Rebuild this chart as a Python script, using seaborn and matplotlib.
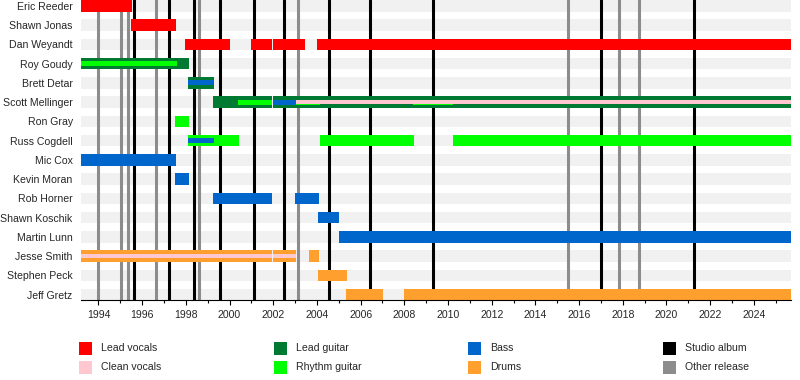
import matplotlib
matplotlib.use("Agg")
import matplotlib.pyplot as plt
from matplotlib.patches import Rectangle
import seaborn as sns
import pandas as pd

# ---- Data ----
START = 1993.2
END = 2025.7

members = [
    "Eric Reeder", "Shawn Jonas", "Dan Weyandt", "Roy Goudy", "Brett Detar",
    "Scott Mellinger", "Ron Gray", "Russ Cogdell", "Mic Cox", "Kevin Moran",
    "Rob Horner", "Shawn Koschik", "Martin Lunn", "Jesse Smith", "Stephen Peck",
    "Jeff Gretz",
]

lead_vocals = [
    ("Eric Reeder", START, 1995.53),
    ("Shawn Jonas", 1995.5, 1997.56),
    ("Dan Weyandt", 1997.97, 2000.01),
    ("Dan Weyandt", 2000.99, 2001.96),
    ("Dan Weyandt", 2002.0, 2003.46),
    ("Dan Weyandt", 2004.02, END),
]
lead_guitar = [
    ("Roy Goudy", START, 1998.15),
    ("Brett Detar", 1998.12, 1999.3),
    ("Scott Mellinger", 1999.26, 2001.96),
    ("Scott Mellinger", 2002.0, END),
]
rhythm_guitar = [
    ("Ron Gray", 1997.51, 1998.15),
    ("Russ Cogdell", 1998.1, 2000.43),
    ("Russ Cogdell", 2004.15, 2008.45),
    ("Russ Cogdell", 2010.25, END),
]
bass = [
    ("Mic Cox", START, 1997.54),
    ("Kevin Moran", 1997.51, 1998.15),
    ("Rob Horner", 1999.25, 2001.93),
    ("Rob Horner", 2003.0, 2004.1),
    ("Shawn Koschik", 2004.07, 2005.02),
    ("Martin Lunn", 2004.99, END),
]
drums = [
    ("Jesse Smith", START, 2001.96),
    ("Jesse Smith", 2002.0, 2003.05),
    ("Jesse Smith", 2003.64, 2004.1),
    ("Stephen Peck", 2004.07, 2005.37),
    ("Jeff Gretz", 2005.34, 2007.02),
    ("Jeff Gretz", 2007.99, END),
]
# secondary roles drawn as inner stripes
rhythm_inner = [
    ("Roy Goudy", START, 1997.6),
    ("Scott Mellinger", 2000.38, 2001.96),
    ("Scott Mellinger", 2003.05, 2004.12),
    ("Scott Mellinger", 2008.42, 2010.25),
]
bass_inner = [
    ("Brett Detar", 1998.12, 1999.3),
    ("Russ Cogdell", 1998.1, 1999.28),
    ("Scott Mellinger", 2002.0, 2003.05),
]
clean_vocals_inner = [
    ("Jesse Smith", START, 2001.96),
    ("Jesse Smith", 2002.0, 2003.05),
    ("Scott Mellinger", 2003.05, END),
]

studio_albums = [1995.63, 1997.25, 1998.39, 1999.57, 2001.13, 2002.51,
                 2004.53, 2006.43, 2009.33, 2016.99, 2021.28]
other_releases = [1994.0, 1995.02, 1995.35, 1996.64, 1998.58, 2003.15,
                  2015.51, 2017.84, 2018.73]

year_ticks = list(range(1994, 2026))
year_labels = [str(y) if y % 2 == 0 else "" for y in year_ticks]

# ---- Colours ----
C_LEAD_VOC = "#ff0000"
C_CLEAN_VOC = "#ffc8d0"
C_LEAD_GTR = "#007a33"
C_RHYTHM = "#00ff00"
C_BASS = "#0066cc"
C_DRUMS = "#ff9f2e"
C_STUDIO = "#000000"
C_OTHER = "#8c8c8c"
C_BAND = "#f1f1f1"

sns.set_theme(style="white")
plt.rcParams["font.family"] = ["Liberation Sans", "DejaVu Sans"]

W, H = 800, 380
fig = plt.figure(figsize=(W / 100, H / 100), dpi=100)
ax = fig.add_axes([81 / W, 1 - 300 / H, 710 / W, 300 / H])

row = {m: i for i, m in enumerate(members)}
BAR_H = 0.608


def draw(spans, color, height, z):
    df = pd.DataFrame(spans, columns=["member", "start", "end"])
    df["y"] = df["member"].map(row)
    ax.barh(df["y"], df["end"] - df["start"], left=df["start"], height=height,
            color=color, linewidth=0, zorder=z)


# background bands for each row
ax.barh(range(len(members)), END - START, left=START, height=BAR_H,
        color=C_BAND, linewidth=0, zorder=0)

# release lines
for x in other_releases:
    ax.axvline(x, color=C_OTHER, lw=2.2, zorder=1)
for x in studio_albums:
    ax.axvline(x, color=C_STUDIO, lw=2.2, zorder=1)

draw(lead_vocals, C_LEAD_VOC, BAR_H, 2)
draw(lead_guitar, C_LEAD_GTR, BAR_H, 2)
draw(rhythm_guitar, C_RHYTHM, BAR_H, 2)
draw(bass, C_BASS, BAR_H, 2)
draw(drums, C_DRUMS, BAR_H, 2)
draw(rhythm_inner, C_RHYTHM, 0.26, 3)
draw(bass_inner, C_BASS, 0.26, 3)
draw(clean_vocals_inner, C_CLEAN_VOC, 0.17, 4)

ax.set_xlim(START, END)
ax.set_ylim(15.28, -0.304)
ax.set_yticks(range(len(members)), members, fontsize=7.6)
ax.set_xticks(year_ticks, year_labels, fontsize=7.6)
ax.tick_params(axis="y", length=0, pad=6)
ax.tick_params(axis="x", length=3.6, width=0.8, pad=3.5, color="black",
               bottom=True)
for i, t in enumerate(ax.xaxis.get_major_ticks()):
    if year_ticks[i] % 2:
        t.tick1line.set_markersize(2.2)

sns.despine(ax=ax, left=True, top=True, right=True)
ax.spines["bottom"].set_color("black")
ax.spines["bottom"].set_linewidth(0.8)
ax.grid(False)

# ---- Legend ----
legend_items = [
    [("Lead vocals", C_LEAD_VOC), ("Clean vocals", C_CLEAN_VOC)],
    [("Lead guitar", C_LEAD_GTR), ("Rhythm guitar", C_RHYTHM)],
    [("Bass", C_BASS), ("Drums", C_DRUMS)],
    [("Studio album", C_STUDIO), ("Other release", C_OTHER)],
]
for c, col in enumerate(legend_items):
    x0 = 79 + c * 194.6
    for r, (label, color) in enumerate(col):
        yc = 348 + r * 19
        fig.add_artist(Rectangle((x0 / W, 1 - (yc + 6.5) / H), 13 / W, 13 / H,
                                 transform=fig.transFigure, color=color,
                                 linewidth=0))
        fig.text((x0 + 22) / W, 1 - yc / H, label, fontsize=7.6,
                 va="center", ha="left")

fig.savefig("out.png", dpi=100)
plt.close(fig)
